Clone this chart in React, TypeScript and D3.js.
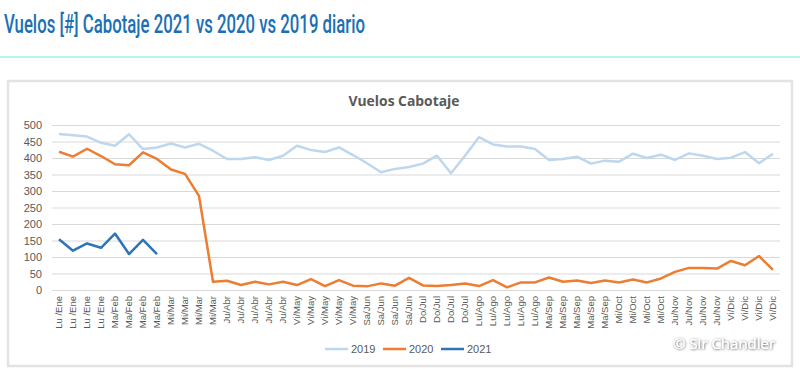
import React, { useRef, useEffect } from 'react';
import * as d3 from 'd3';

// semana a semana, 52 puntos
const weekLabels = [
  'Lu /Ene', 'Lu /Ene', 'Lu /Ene', 'Lu /Ene',
  'Ma/Feb', 'Ma/Feb', 'Ma/Feb', 'Ma/Feb',
  'Mi/Mar', 'Mi/Mar', 'Mi/Mar', 'Mi/Mar',
  'Ju/Abr', 'Ju/Abr', 'Ju/Abr', 'Ju/Abr', 'Ju/Abr',
  'Vi/May', 'Vi/May', 'Vi/May', 'Vi/May', 'Vi/May',
  'Sa/Jun', 'Sa/Jun', 'Sa/Jun', 'Sa/Jun',
  'Do/Jul', 'Do/Jul', 'Do/Jul', 'Do/Jul',
  'Lu/Ago', 'Lu/Ago', 'Lu/Ago', 'Lu/Ago', 'Lu/Ago',
  'Ma/Sep', 'Ma/Sep', 'Ma/Sep', 'Ma/Sep', 'Ma/Sep',
  'Mi/Oct', 'Mi/Oct', 'Mi/Oct', 'Mi/Oct',
  'Ju/Nov', 'Ju/Nov', 'Ju/Nov', 'Ju/Nov',
  'Vi/Dic', 'Vi/Dic', 'Vi/Dic', 'Vi/Dic',
];

const vuelos2019 = [
  473, 469, 465, 446, 437, 472, 427, 432, 444, 432, 443, 422, 397, 397, 402, 394,
  407, 437, 424, 418, 432, 409, 384, 357, 367, 373, 383, 407, 354, 407, 463, 441,
  435, 435, 427, 394, 397, 404, 383, 392, 389, 413, 400, 410, 394, 414, 407, 397,
  401, 418, 384, 413,
];

const vuelos2020 = [
  419, 404, 428, 406, 381, 378, 417, 397, 365, 352, 285, 25, 28, 15, 25, 17,
  25, 15, 33, 12, 30, 13, 11, 20, 13, 37, 14, 12, 15, 20, 12, 30,
  8, 23, 23, 38, 25, 29, 21, 29, 23, 32, 23, 35, 55, 67, 67, 65,
  88, 75, 103, 61,
];

const vuelos2021 = [154, 119, 141, 128, 171, 109, 152, 109];

const yTicks = [0, 50, 100, 150, 200, 250, 300, 350, 400, 450, 500];

const seriesNames = ['2019', '2020', '2021'];
const seriesColors = ['#bdd7ee', '#ed7d31', '#2e75b6'];

const App = () => {
  const svgRef = useRef(null);

  useEffect(() => {
    const width = 800;
    const height = 369;
    const margin = { top: 125, right: 20, bottom: 79, left: 52 };
    const innerW = width - margin.left - margin.right;
    const innerH = height - margin.top - margin.bottom;

    const root = d3.select(svgRef.current);
    root.selectAll('*').remove();
    root.attr('width', width).attr('height', height);

    const defs = root.append('defs');
    defs.append('filter')
      .attr('id', 'sombra')
      .attr('x', '-10%').attr('y', '-30%').attr('width', '120%').attr('height', '160%')
      .append('feDropShadow')
      .attr('dx', 0.5).attr('dy', 0.5).attr('stdDeviation', 1.2)
      .attr('flood-color', '#000').attr('flood-opacity', 0.75);

    root.append('rect').attr('width', width).attr('height', height).attr('fill', '#fff');

    // encabezado de la nota
    root.append('text')
      .attr('x', 4).attr('y', 33)
      .attr('textLength', 361).attr('lengthAdjust', 'spacingAndGlyphs')
      .style('font-family', 'Roboto').style('font-size', '25px').style('font-weight', 500)
      .attr('fill', '#1b70b4')
      .text('Vuelos [#] Cabotaje 2021 vs 2020 vs 2019 diario');

    root.append('line')
      .attr('x1', 0).attr('x2', width).attr('y1', 57).attr('y2', 57)
      .attr('stroke', '#b5f4f4').attr('stroke-width', 2);

    // marco del grafico
    root.append('rect')
      .attr('x', 8).attr('y', 81).attr('width', 784).attr('height', 285)
      .attr('fill', '#fff').attr('stroke', '#e3e3e3').attr('stroke-width', 2.5);

    root.append('text')
      .attr('x', 404).attr('y', 106)
      .attr('text-anchor', 'middle')
      .attr('textLength', 111).attr('lengthAdjust', 'spacingAndGlyphs')
      .style('font-family', 'Open Sans').style('font-size', '14px').style('font-weight', 700)
      .attr('fill', '#595959')
      .text('Vuelos Cabotaje');

    const svg = root.append('g').attr('transform', `translate(${margin.left},${margin.top})`);

    const x = d3.scaleBand<number>()
      .domain(d3.range(weekLabels.length))
      .range([0, innerW]);

    const y = d3.scaleLinear().domain([0, 500]).range([innerH, 0]);

    // grilla y eje y
    svg.append('g')
      .call(d3.axisLeft(y).tickValues(yTicks).tickSize(-innerW).tickPadding(10))
      .call(g => g.select('.domain').remove())
      .call(g => g.selectAll('.tick line').attr('stroke', '#d9d9d9').attr('stroke-width', 1))
      .call(g => g.selectAll('.tick text')
        .attr('fill', '#595959')
        .style('font-family', 'Liberation Sans')
        .style('font-size', '11px'));

    // eje x con etiquetas verticales
    svg.append('g')
      .attr('transform', `translate(0,${innerH})`)
      .call(d3.axisBottom(x).tickSize(0).tickFormat(i => weekLabels[i]))
      .call(g => g.select('.domain').remove())
      .call(g => g.selectAll('.tick text')
        .attr('transform', 'rotate(-90)')
        .attr('x', -6).attr('y', 0).attr('dy', '0.35em')
        .style('text-anchor', 'end')
        .attr('fill', '#595959')
        .style('font-family', 'Liberation Sans')
        .style('font-size', '9.5px'));

    const line = d3.line<number>()
      .x((_, i) => x(i) + x.bandwidth() / 2)
      .y(d => y(d));

    [vuelos2019, vuelos2020, vuelos2021].forEach((serie, k) => {
      svg.append('path')
        .datum(serie)
        .attr('fill', 'none')
        .attr('stroke', seriesColors[k])
        .attr('stroke-width', 2.5)
        .attr('stroke-linejoin', 'round')
        .attr('d', line);
    });

    // leyenda
    const legend = root.append('g').attr('transform', 'translate(325,349)');
    const item = legend.selectAll('g')
      .data(seriesNames)
      .join('g')
      .attr('transform', (_, i) => `translate(${i * 58},0)`);
    item.append('line')
      .attr('x1', 0).attr('x2', 23).attr('y1', 0).attr('y2', 0)
      .attr('stroke', (_, i) => seriesColors[i]).attr('stroke-width', 2.5);
    item.append('text')
      .attr('x', 26).attr('dy', '0.35em')
      .attr('fill', '#595959')
      .style('font-family', 'Liberation Sans').style('font-size', '11px')
      .text(d => d);

    // marca de agua
    root.append('text')
      .attr('x', 673).attr('y', 349)
      .attr('filter', 'url(#sombra)')
      .attr('fill', '#fff')
      .style('font-family', 'Open Sans').style('font-size', '15px')
      .text('© Sir Chandler');
  }, []);

  return <svg ref={svgRef} style={{ position: 'absolute', left: 0, top: 0, display: 'block' }}></svg>;
};

export default App;
